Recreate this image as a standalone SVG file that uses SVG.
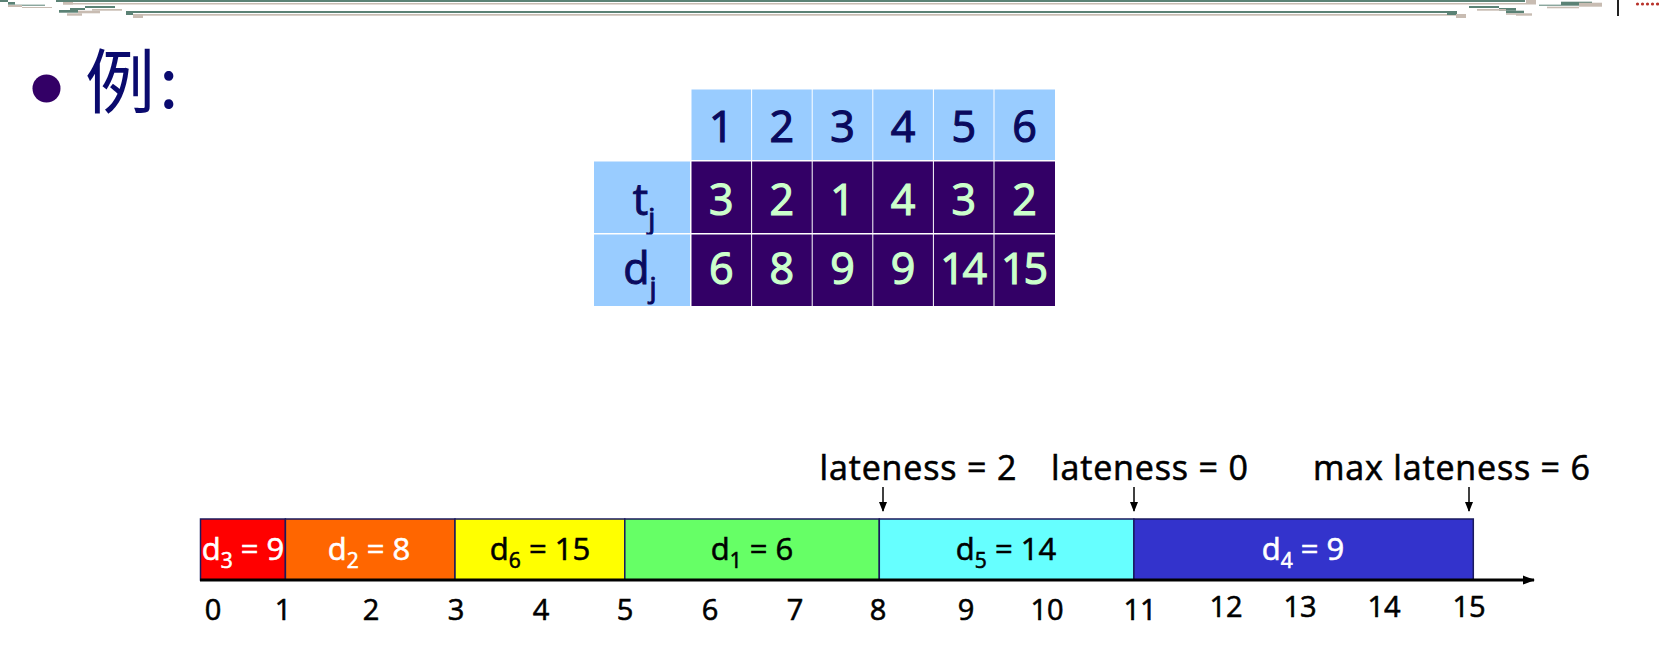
<svg xmlns="http://www.w3.org/2000/svg" width="1659" height="664" viewBox="0 0 1659 664">
<defs>
<style>
.tx{font-family:"Open Sans","DejaVu Sans",sans-serif;}
.hd{fill:#99ccff;}
.dk{fill:#330066;}
.hnum{font-size:43px;fill:#0a0a5e;stroke:#0a0a5e;stroke-width:1.2;text-anchor:middle;}
.lnum{font-size:43px;fill:#ccffcc;stroke:#ccffcc;stroke-width:1.2;text-anchor:middle;}
.seg{stroke:#1a1a5e;stroke-width:1.5;}
.sl{font-size:31px;text-anchor:middle;stroke-width:0.6;}
.tick{font-size:29px;fill:#000;stroke:#000;stroke-width:0.6;text-anchor:middle;}
.late{font-size:34px;fill:#000;stroke:#000;stroke-width:0.6;}
.teal{fill:#5b8275;}
.beige{fill:#c8bcb2;}
</style>
<marker id="ah" markerUnits="userSpaceOnUse" markerWidth="10" markerHeight="10" viewBox="0 0 10 10" refX="9" refY="5" orient="auto">
<path d="M0,1 L10,5 L0,9 Z" fill="#000"/>
</marker>
<marker id="ax" markerUnits="userSpaceOnUse" markerWidth="12" markerHeight="10" viewBox="0 0 12 10" refX="11" refY="5" orient="auto">
<path d="M0,0.5 L12,5 L0,9.5 Z" fill="#000"/>
</marker>
</defs>
<rect width="1659" height="664" fill="#fff"/>

<g id="header-decoration">
<rect class="teal" x="56" y="0" width="1469" height="2"/>
<rect class="beige" x="63" y="3" width="1473" height="1.5"/>
<rect class="beige" x="63" y="2" width="10" height="2.5"/>
<rect class="beige" x="1526" y="0" width="10" height="3"/>
<rect class="teal" x="126" y="11" width="1331" height="2"/>
<rect class="beige" x="133" y="14" width="1333" height="1.7"/>
<rect class="teal" x="126" y="11" width="7" height="4"/>
<rect class="beige" x="133" y="15" width="10" height="3"/>
<rect class="teal" x="1447" y="11.7" width="10" height="3.3"/>
<rect class="beige" x="1456" y="14" width="10" height="4"/>
<rect class="teal" x="0" y="0" width="8" height="2"/>
<rect class="teal" x="8" y="2" width="7" height="2.7"/>
<rect class="teal" x="15" y="4.7" width="30" height="1"/>
<rect class="beige" x="8" y="5" width="14" height="2"/>
<rect class="beige" x="22" y="7" width="30" height="1"/>
<rect class="teal" x="85" y="6" width="30" height="2"/>
<rect class="teal" x="70" y="8" width="15" height="2"/>
<rect class="teal" x="59" y="10" width="19" height="2.7"/>
<rect class="beige" x="92" y="9" width="30" height="1.7"/>
<rect class="beige" x="78" y="10.7" width="22" height="2.6"/>
<rect class="beige" x="67" y="13.3" width="15" height="2.4"/>
<rect class="teal" x="1469" y="6" width="30" height="2"/>
<rect class="teal" x="1499" y="8" width="17" height="2.7"/>
<rect class="teal" x="1506" y="10.7" width="18" height="2.6"/>
<rect class="beige" x="1477" y="9" width="29" height="1.7"/>
<rect class="beige" x="1506" y="13.3" width="10" height="1.5"/>
<rect class="beige" x="1516" y="13.3" width="16" height="2.4"/>
<rect class="teal" x="1539" y="4.7" width="53" height="1"/>
<rect class="teal" x="1561" y="1.7" width="31" height="3.3"/>
<rect class="beige" x="1547" y="6.7" width="32" height="1.6"/>
<rect class="beige" x="1579" y="2.7" width="23" height="4"/>
<rect x="1617" y="0" width="2" height="16" fill="#222"/>
<g fill="#b8322a">
<circle cx="1637.5" cy="4" r="1.6"/><circle cx="1642.5" cy="4" r="1.6"/><circle cx="1647.5" cy="4" r="1.6"/><circle cx="1652.5" cy="4" r="1.6"/><circle cx="1657.5" cy="4" r="1.6"/>
</g>
</g>

<g id="title">
<circle cx="46.5" cy="88.5" r="14" fill="#330066"/>
<text x="85" y="108" font-family="'Noto Sans CJK SC','Noto Sans CJK JP',sans-serif" font-size="70" fill="#0a0a6e">例<tspan dx="4">:</tspan></text>
</g>

<g id="table">
<g id="header-row">
<rect class="hd" x="691.5" y="89.5" width="59.6" height="70.5"/>
<rect class="hd" x="752.1" y="89.5" width="59.6" height="70.5"/>
<rect class="hd" x="812.7" y="89.5" width="59.6" height="70.5"/>
<rect class="hd" x="873.3" y="89.5" width="59.6" height="70.5"/>
<rect class="hd" x="933.9" y="89.5" width="59.6" height="70.5"/>
<rect class="hd" x="994.5" y="89.5" width="60.5" height="70.5"/>
<text class="tx hnum" x="721.3" y="142">1</text>
<text class="tx hnum" x="781.9" y="142">2</text>
<text class="tx hnum" x="842.5" y="142">3</text>
<text class="tx hnum" x="903.1" y="142">4</text>
<text class="tx hnum" x="963.7" y="142">5</text>
<text class="tx hnum" x="1024.5" y="142">6</text>
</g>
<g id="row-t">
<rect class="hd" x="594" y="161.5" width="96" height="71.5"/>
<text class="tx" x="644" y="215" font-size="43" fill="#0a0a5e" stroke="#0a0a5e" stroke-width="1" text-anchor="middle">t<tspan font-size="28" dy="13">j</tspan></text>
<rect class="dk" x="691.5" y="161.5" width="59.6" height="71.5"/>
<rect class="dk" x="752.1" y="161.5" width="59.6" height="71.5"/>
<rect class="dk" x="812.7" y="161.5" width="59.6" height="71.5"/>
<rect class="dk" x="873.3" y="161.5" width="59.6" height="71.5"/>
<rect class="dk" x="933.9" y="161.5" width="59.6" height="71.5"/>
<rect class="dk" x="994.5" y="161.5" width="60.5" height="71.5"/>
<text class="tx lnum" x="721.3" y="215">3</text>
<text class="tx lnum" x="781.9" y="215">2</text>
<text class="tx lnum" x="842.5" y="215">1</text>
<text class="tx lnum" x="903.1" y="215">4</text>
<text class="tx lnum" x="963.7" y="215">3</text>
<text class="tx lnum" x="1024.5" y="215">2</text>
</g>
<g id="row-d">
<rect class="hd" x="594" y="234.5" width="96" height="71.5"/>
<text class="tx" x="640" y="284" font-size="43" fill="#0a0a5e" stroke="#0a0a5e" stroke-width="1" text-anchor="middle">d<tspan font-size="28" dy="13">j</tspan></text>
<rect class="dk" x="691.5" y="234.5" width="59.6" height="71.5"/>
<rect class="dk" x="752.1" y="234.5" width="59.6" height="71.5"/>
<rect class="dk" x="812.7" y="234.5" width="59.6" height="71.5"/>
<rect class="dk" x="873.3" y="234.5" width="59.6" height="71.5"/>
<rect class="dk" x="933.9" y="234.5" width="59.6" height="71.5"/>
<rect class="dk" x="994.5" y="234.5" width="60.5" height="71.5"/>
<text class="tx lnum" x="721.3" y="284">6</text>
<text class="tx lnum" x="781.9" y="284">8</text>
<text class="tx lnum" x="842.5" y="284">9</text>
<text class="tx lnum" x="903.1" y="284">9</text>
<text class="tx lnum" x="963.7" y="284" textLength="47">14</text>
<text class="tx lnum" x="1024.5" y="284" textLength="47">15</text>
</g>
</g>

<g id="job3">
<rect class="seg" x="200.5" y="519" width="84.9" height="61" fill="#ff0000"/>
<text class="tx sl" x="243" y="560" fill="#fff" stroke="#fff">d<tspan font-size="21" dy="8">3</tspan><tspan dy="-8"> = 9</tspan></text>
</g>
<g id="job2">
<rect class="seg" x="285.4" y="519" width="169.6" height="61" fill="#ff6600"/>
<text class="tx sl" x="369" y="560" fill="#fff" stroke="#fff">d<tspan font-size="21" dy="8">2</tspan><tspan dy="-8"> = 8</tspan></text>
</g>
<g id="job6">
<rect class="seg" x="455" y="519" width="169.8" height="61" fill="#ffff00"/>
<text class="tx sl" x="540" y="560" fill="#000" stroke="#000">d<tspan font-size="21" dy="8">6</tspan><tspan dy="-8"> = 15</tspan></text>
</g>
<g id="job1">
<rect class="seg" x="624.8" y="519" width="254.5" height="61" fill="#66ff66"/>
<text class="tx sl" x="752" y="560" fill="#000" stroke="#000">d<tspan font-size="21" dy="8">1</tspan><tspan dy="-8"> = 6</tspan></text>
</g>
<g id="job5">
<rect class="seg" x="879.3" y="519" width="254.6" height="61" fill="#66ffff"/>
<text class="tx sl" x="1006" y="560" fill="#000" stroke="#000">d<tspan font-size="21" dy="8">5</tspan><tspan dy="-8"> = 14</tspan></text>
</g>
<g id="job4">
<rect class="seg" x="1133.9" y="519" width="339.4" height="61" fill="#3333cc"/>
<text class="tx sl" x="1303" y="560" fill="#fff" stroke="#fff">d<tspan font-size="21" dy="8">4</tspan><tspan dy="-8"> = 9</tspan></text>
</g>

<g id="lateness-labels">
<text class="tx late" x="819.5" y="480" textLength="197">lateness = 2</text>
<text class="tx late" x="1051" y="480" textLength="197">lateness = 0</text>
<text class="tx late" x="1313" y="480" textLength="277">max lateness = 6</text>
</g>

<g id="connectors" stroke="#000" fill="none">
<line x1="200" y1="580" x2="1534" y2="580" stroke-width="3" marker-end="url(#ax)"/>
<line x1="883" y1="487" x2="883" y2="511" stroke-width="1.5" marker-end="url(#ah)"/>
<line x1="1134" y1="487" x2="1134" y2="511" stroke-width="1.5" marker-end="url(#ah)"/>
<line x1="1469" y1="487" x2="1469" y2="511" stroke-width="1.5" marker-end="url(#ah)"/>
</g>

<g id="axis-labels" class="tx">
<text class="tick" x="213" y="620">0</text>
<text class="tick" x="283" y="620">1</text>
<text class="tick" x="371" y="620">2</text>
<text class="tick" x="456" y="620">3</text>
<text class="tick" x="541" y="620">4</text>
<text class="tick" x="625" y="620">5</text>
<text class="tick" x="710" y="620">6</text>
<text class="tick" x="795" y="620">7</text>
<text class="tick" x="878" y="620">8</text>
<text class="tick" x="966" y="620">9</text>
<text class="tick" x="1047" y="620">10</text>
<text class="tick" x="1140" y="620">11</text>
<text class="tick" x="1226" y="617">12</text>
<text class="tick" x="1300" y="617">13</text>
<text class="tick" x="1384" y="617">14</text>
<text class="tick" x="1469" y="617">15</text>
</g>
</svg>
